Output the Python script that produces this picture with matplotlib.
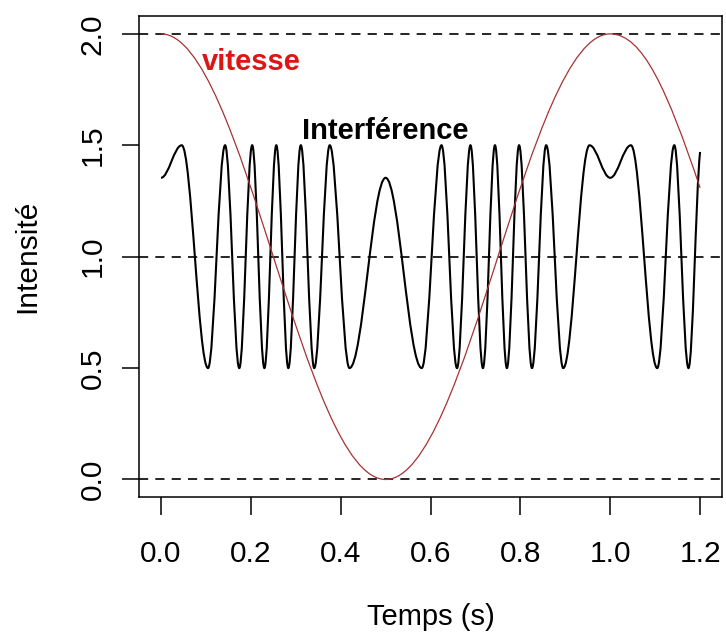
import matplotlib
matplotlib.use("Agg")
import matplotlib.pyplot as plt
from matplotlib.path import Path
from matplotlib.patches import PathPatch

plt.rcParams["font.family"] = ["Liberation Sans", "DejaVu Sans"]

# velocity curve: knots (time, value, slope)
vit_t = [0.0, 0.5, 1.0, 1.2]
vit_y = [2.0, 0.0, 2.0, 1.309]
vit_s = [0.0, 0.0, 0.0, -5.98]

# interference curve: extrema (time, value), slope 0 except at the end
int_t = [0.0, 0.0461, 0.1046, 0.1426, 0.1742, 0.2029, 0.2301, 0.2566, 0.2834,
         0.3112, 0.3411, 0.3756, 0.4196, 0.5, 0.5804, 0.6244, 0.6589, 0.6888,
         0.7166, 0.7434, 0.7699, 0.7971, 0.8258, 0.8574, 0.8954, 0.9539, 1.0,
         1.0461, 1.1046, 1.1426, 1.1742, 1.2]
int_y = [1.354, 1.5, 0.5, 1.5, 0.5, 1.5, 0.5, 1.5, 0.5,
         1.5, 0.5, 1.5, 0.5, 1.354, 0.5, 1.5, 0.5, 1.5,
         0.5, 1.5, 0.5, 1.5, 0.5, 1.5, 0.5, 1.5, 1.354,
         1.5, 0.5, 1.5, 0.5, 1.47]
int_s = [0.0] * (len(int_t) - 1) + [18.2]

ref_lines = [0.0, 1.0, 2.0]
xticks = [0.0, 0.2, 0.4, 0.6, 0.8, 1.0, 1.2]
yticks = [0.0, 0.5, 1.0, 1.5, 2.0]


def smooth_path(t, y, s, h=0.3642):
    # cubic bezier segments between knots, tangent given by the slope
    verts = [(t[0], y[0])]
    codes = [Path.MOVETO]
    for i in range(len(t) - 1):
        dx = t[i + 1] - t[i]
        verts += [(t[i] + h * dx, y[i] + s[i] * h * dx),
                  (t[i + 1] - h * dx, y[i + 1] - s[i + 1] * h * dx),
                  (t[i + 1], y[i + 1])]
        codes += [Path.CURVE4] * 3
    return Path(verts, codes)


fig = plt.figure(figsize=(7.26, 6.34), dpi=100)
ax = fig.add_axes([0.1921, 0.2156, 0.8019, 0.7591])

for yv in ref_lines:
    ax.axhline(yv, color="black", lw=1.2, ls=(0, (5.5, 4.3)), zorder=1)

ax.add_patch(PathPatch(smooth_path(int_t, int_y, int_s), fill=False,
                       edgecolor="black", lw=1.5, zorder=2))
ax.add_patch(PathPatch(smooth_path(vit_t, vit_y, vit_s), fill=False,
                       edgecolor="#a83232", lw=0.9, zorder=3))

ax.text(0.2, 1.84, "vitesse", color="#dd1515", fontsize=21,
        fontweight="bold", ha="center", va="baseline")
ax.text(0.5, 1.53, "Interférence", color="black", fontsize=21,
        fontweight="bold", ha="center", va="baseline")

ax.set_xlim(-0.048, 1.248)
ax.set_ylim(-0.08, 2.08)
ax.set_xticks(xticks)
ax.set_xticklabels([f"{v:.1f}" for v in xticks])
ax.set_yticks(yticks)
ax.set_yticklabels([f"{v:.1f}" for v in yticks], rotation=90, va="center")
ax.tick_params(axis="both", length=12.6, width=1.1, labelsize=21.5,
               direction="out")
ax.tick_params(axis="x", pad=18)
ax.tick_params(axis="y", pad=11)
for sp in ax.spines.values():
    sp.set_linewidth(1.1)

fig.text(430.6 / 726, 1 - 625 / 634, "Temps (s)", fontsize=21,
         ha="center", va="baseline")
fig.text(35 / 726, 1 - 256 / 634, "Intensité", fontsize=21.5, rotation=90,
         rotation_mode="anchor", ha="center", va="baseline")

fig.savefig("out.png", dpi=100)
